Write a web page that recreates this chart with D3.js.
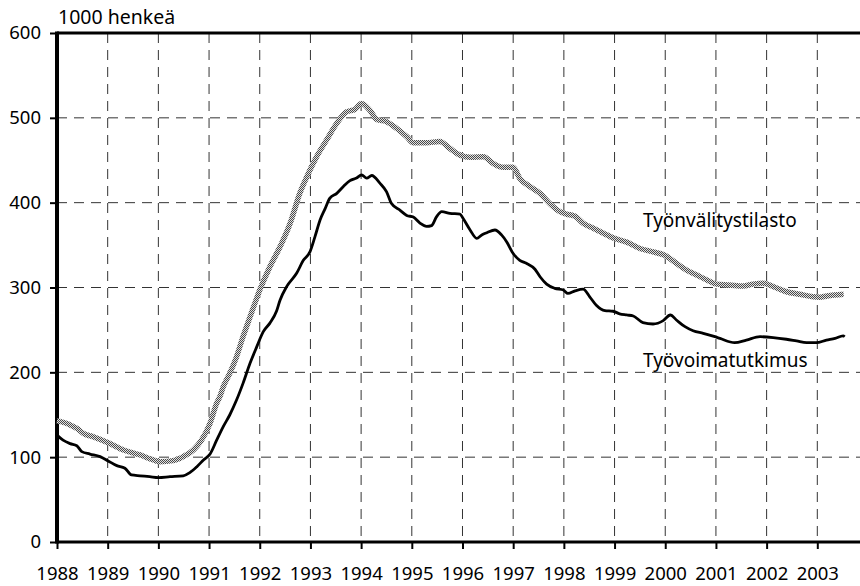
<!DOCTYPE html>
<html>
<head>
<meta charset="utf-8">
<script src="https://cdn.jsdelivr.net/npm/d3@7"></script>
<style>
  body { margin: 0; background: #fff; }
  text { font-family: "Noto Sans", sans-serif; fill: #000; }
</style>
</head>
<body>
<div id="chart"></div>
<script>
// data (decimal year, 1000 persons)
var tyovoimaYears = [1988.00,1988.12,1988.26,1988.39,1988.49,1988.65,1988.85,1989.01,1989.18,1989.34,1989.47,1989.64,1989.83,1990.00,1990.23,1990.49,1990.62,1990.76,1990.89,1991.02,1991.15,1991.28,1991.41,1991.54,1991.67,1991.81,1991.94,1992.07,1992.20,1992.33,1992.40,1992.53,1992.73,1992.86,1992.99,1993.09,1993.19,1993.29,1993.38,1993.52,1993.65,1993.78,1993.91,1994.01,1994.11,1994.21,1994.37,1994.50,1994.60,1994.77,1994.90,1995.03,1995.16,1995.29,1995.39,1995.49,1995.59,1995.75,1995.95,1996.01,1996.15,1996.28,1996.38,1996.48,1996.64,1996.77,1996.87,1997.00,1997.13,1997.26,1997.43,1997.53,1997.66,1997.82,1997.99,1998.08,1998.22,1998.38,1998.51,1998.64,1998.81,1998.97,1999.10,1999.24,1999.37,1999.56,1999.76,1999.96,2000.10,2000.22,2000.39,2000.55,2000.75,2000.98,2001.08,2001.37,2001.60,2001.87,2002.13,2002.39,2002.59,2002.79,2002.98,2003.18,2003.35,2003.51,2003.54];
var tyovoimaValues = [126,120,116,113.5,106.5,103.7,100.6,95.5,90,87,79,78,77,76,77,78,81.7,88.8,96.7,103.7,120,136,150,167,187,211,230,248,258,272,285,301,317,332,342,360,379.6,393,405,411,419,426,429,432.6,429,432,423,413,399,391,385,383,376,372,373,383.6,389.4,387.5,386.6,381.6,367.8,358,362,364.6,367.8,362,354,340,332,328.5,321.5,312.7,304,299,297,293,296,298,289,279,272.7,272,269,267.6,266.4,258.6,257,261,267.6,261.7,253.8,249,246,242,240,235,238,242,241,239,237,235,235,238,240,243,242];

var tyonvalitysYears = [1988.00,1988.26,1988.39,1988.52,1988.72,1989.01,1989.31,1989.64,1989.90,1990.03,1990.29,1990.49,1990.69,1990.85,1991.02,1991.15,1991.21,1991.28,1991.41,1991.54,1991.67,1991.81,1992.00,1992.20,1992.40,1992.60,1992.79,1992.93,1993.12,1993.32,1993.52,1993.71,1993.88,1994.01,1994.17,1994.31,1994.50,1994.70,1994.90,1995.03,1995.29,1995.55,1995.75,1995.95,1996.15,1996.41,1996.61,1996.80,1997.00,1997.13,1997.33,1997.53,1997.72,1997.92,1998.05,1998.22,1998.38,1998.58,1998.78,1998.97,1999.24,1999.50,1999.76,1999.99,2000.22,2000.42,2000.62,2000.82,2001.01,2001.27,2001.54,2001.73,2001.93,2002.13,2002.39,2002.65,2002.92,2003.05,2003.19,2003.52];
var tyonvalitysValues = [143,138,134,128,124,117,108.5,102.6,96.7,94.7,95.9,100.6,108.5,120,140,163.5,171,183,199,218,242,265.6,297,324.5,348,375.7,411,430.6,454,474,493.6,507,510,517,509,498,495.5,487.6,477.8,470.7,470.7,472,464,456,453.5,454,446,441.7,441.7,428.7,419,411,399,389.4,386.6,384,375.7,369.8,364,358.5,353.5,346,342,338,328.5,320.6,314.7,308.9,304,303,301.8,304,305,301,295,292,289,288.5,290,292];

var yearTicks = d3.range(1988, 2004);
var valueTicks = [0, 100, 200, 300, 400, 500, 600];

var width = 860, height = 586;
var plotLeft = 57, plotRight = 860, plotTop = 33, plotBottom = 542;

var svg = d3.select("#chart").append("svg")
    .attr("width", width)
    .attr("height", height);

// checkered pattern for the grey line
var defs = svg.append("defs");
var pat = defs.append("pattern")
    .attr("id", "dither")
    .attr("patternUnits", "userSpaceOnUse")
    .attr("width", 2).attr("height", 2);
pat.append("rect").attr("width", 2).attr("height", 2).attr("fill", "#e2e2e2");
pat.append("rect").attr("width", 1).attr("height", 1).attr("fill", "#4a4a4a");
pat.append("rect").attr("x", 1).attr("y", 1).attr("width", 1).attr("height", 1).attr("fill", "#4a4a4a");

var x = d3.scaleLinear().domain([1988, 2003]).range([plotLeft, 817.3]);
var y = d3.scaleLinear().domain([0, 600]).range([plotBottom, plotTop]);

// grid
svg.append("g").selectAll("line")
    .data(valueTicks.filter(function(d) { return d > 0 && d < 600; }))
    .enter().append("line")
    .attr("x1", plotLeft).attr("x2", plotRight)
    .attr("y1", function(d) { return y(d); })
    .attr("y2", function(d) { return y(d); })
    .attr("stroke", "#333").attr("stroke-width", 1)
    .attr("stroke-dasharray", "10,7");

svg.append("g").selectAll("line")
    .data(yearTicks.filter(function(d) { return d > 1988; }))
    .enter().append("line")
    .attr("x1", function(d) { return x(d); })
    .attr("x2", function(d) { return x(d); })
    .attr("y1", plotTop).attr("y2", plotBottom)
    .attr("stroke", "#333").attr("stroke-width", 1)
    .attr("stroke-dasharray", "10,7");

// axes
var xAxis = d3.axisBottom(x).tickValues(yearTicks).tickFormat(d3.format("d"))
    .tickSize(7).tickSizeOuter(0).tickPadding(18);
var gx = svg.append("g")
    .attr("transform", "translate(0," + plotBottom + ")")
    .call(xAxis);
gx.select(".domain").remove();
gx.selectAll("line").attr("stroke", "#000").attr("stroke-width", 2);
gx.selectAll("text").attr("font-size", 18.5).attr("font-family", "Noto Sans, sans-serif");

var yAxis = d3.axisLeft(y).tickValues(valueTicks)
    .tickSize(7).tickSizeOuter(0).tickPadding(9);
var gy = svg.append("g")
    .attr("transform", "translate(" + plotLeft + ",0)")
    .call(yAxis);
gy.select(".domain").remove();
gy.selectAll("line").attr("stroke", "#000").attr("stroke-width", 2);
gy.selectAll("text").attr("font-size", 18.5).attr("font-family", "Noto Sans, sans-serif");

// frame lines
svg.append("line").attr("x1", plotLeft).attr("x2", plotRight).attr("y1", plotTop).attr("y2", plotTop)
    .attr("stroke", "#000").attr("stroke-width", 3);
svg.append("line").attr("x1", plotLeft).attr("x2", plotRight).attr("y1", plotBottom).attr("y2", plotBottom)
    .attr("stroke", "#000").attr("stroke-width", 3);
svg.append("line").attr("x1", plotLeft).attr("x2", plotLeft).attr("y1", plotTop - 1.5).attr("y2", plotBottom + 1.5)
    .attr("stroke", "#000").attr("stroke-width", 4);

// lines
var line = d3.line()
    .x(function(d) { return x(d[0]); })
    .y(function(d) { return y(d[1]); })
    .curve(d3.curveMonotoneX);

var grey = d3.zip(tyonvalitysYears, tyonvalitysValues);
var black = d3.zip(tyovoimaYears, tyovoimaValues);

svg.append("path").datum(grey)
    .attr("d", line)
    .attr("fill", "none")
    .attr("stroke", "url(#dither)")
    .attr("stroke-width", 5.5);

svg.append("path").datum(black)
    .attr("d", line)
    .attr("fill", "none")
    .attr("stroke", "#000")
    .attr("stroke-width", 2.8)
    .attr("stroke-linejoin", "round");

// labels
svg.append("text").attr("x", 58).attr("y", 24)
    .attr("font-size", 19.5).text("1000 henkeä");

svg.append("text").attr("x", 643).attr("y", 227)
    .attr("font-size", 19).text("Työnvälitystilasto");

svg.append("text").attr("x", 643).attr("y", 367)
    .attr("font-size", 19).text("Työvoimatutkimus");
</script>
</body>
</html>
